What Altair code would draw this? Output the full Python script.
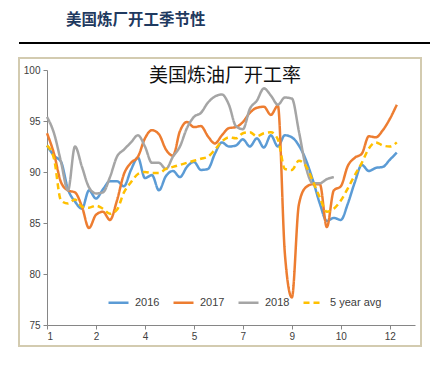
import altair as alt
import pandas as pd

# week index 0..N
s2016 = [92.6, 91.6, 91.0, 88.3, 87.1, 86.4, 88.2, 87.4, 88.3, 89.1,
         89.1, 88.6, 90.2, 91.4, 89.4, 89.7, 88.2, 89.6, 90.1, 89.5,
         90.5, 91.0, 90.2, 90.3, 91.8, 92.9, 92.5, 92.6, 93.2, 92.5,
         93.3, 92.4, 93.6, 92.5, 93.6, 93.4, 92.6, 91.2, 89.2, 86.9,
         85.2, 85.5, 85.3, 86.9, 89.0, 90.7, 90.1, 90.4, 90.5, 91.2, 91.9]
s2017 = [93.8, 91.8, 89.0, 88.2, 88.0, 86.6, 84.5, 85.8, 86.1, 85.3,
         87.2, 89.8, 90.9, 91.5, 93.3, 94.1, 93.7, 92.2, 91.6, 94.0,
         94.9, 94.4, 94.5, 93.5, 92.8, 93.6, 94.3, 94.4, 94.9, 95.8,
         96.3, 96.4, 95.6, 96.5, 82.0, 77.7, 86.8, 88.5, 88.8, 88.8,
         84.6, 88.2, 88.6, 90.6, 91.4, 91.8, 93.5, 93.4, 94.1, 95.2, 96.6]
s2018 = [95.4, 93.8, 91.0, 88.2, 92.5, 90.5, 88.5, 87.9, 88.0, 89.5,
         91.5, 92.2, 92.9, 93.6, 92.5, 90.9, 90.9, 90.3, 91.5, 92.5,
         94.3, 95.4, 95.8, 96.8, 97.4, 97.6, 96.6, 94.5, 94.2, 96.2,
         97.0, 98.2, 97.5, 96.6, 97.3, 97.2, 94.0, 90.5, 88.9, 88.9,
         89.3, 89.5]
s5yr = [92.6, 91.3, 87.2, 86.9, 87.3, 86.6, 86.5, 86.7, 86.4, 85.9,
        86.3, 88.0, 89.0, 89.8, 90.0, 89.9, 89.9, 90.3, 90.5, 90.7,
        90.9, 91.1, 91.3, 91.5, 92.2, 93.0, 93.4, 93.3, 93.8, 93.9,
        93.5, 93.8, 93.9, 93.2, 90.3, 90.2, 91.1, 90.6, 89.1, 87.5,
        86.1, 86.4, 87.2, 88.4, 89.7, 90.9, 92.3, 92.9, 92.6, 92.5, 92.9]

series_names = ["2016", "2017", "2018", "5 year avg"]
series_vals = [s2016, s2017, s2018, s5yr]
series_colors = ["#5B9BD5", "#ED7D31", "#A5A5A5", "#FFC000"]
series_dash = [[1, 0], [1, 0], [1, 0], [6, 4]]

tick_weeks = [0, 7, 14, 21, 28, 35, 42, 49]
tick_labels = ["1", "2", "4", "5", "7", "9", "10", "12"]

header = "美国炼厂开工季节性"
inner_title = "美国炼油厂开工率"

rows = []
for name, vals in zip(series_names, series_vals):
    for w, v in enumerate(vals):
        rows.append({"week": w, "value": v, "series": name})
df = pd.DataFrame(rows)

label_expr = "[" + ",".join("'%s'" % t for t in tick_labels) + "][round(datum.value/7)]"

W, H = 368, 255
one = pd.DataFrame({"a": [0]})

frame = alt.Chart(one).mark_rect(fill=None, stroke="#d3cbb0", strokeWidth=2).encode(
    x=alt.value(-28), x2=alt.value(374), y=alt.value(-12), y2=alt.value(276))

rule = alt.Chart(one).mark_rule(color="black", strokeWidth=2).encode(
    x=alt.value(-28), x2=alt.value(385), y=alt.value(-27))

head = alt.Chart(one).mark_text(
    text=header, font="Noto Sans CJK SC", fontSize=15.5, fontWeight="bold",
    color="#1f3a60", align="left", baseline="middle").encode(
    x=alt.value(19), y=alt.value(-50))

ttl = alt.Chart(one).mark_text(
    text=inner_title, font="Noto Sans CJK SC", fontSize=19,
    color="#111111", align="center", baseline="middle").encode(
    x=alt.value(178), y=alt.value(6))

lines = alt.Chart(df).mark_line(strokeWidth=2.5, interpolate="monotone").encode(
    x=alt.X("week:Q", scale=alt.Scale(domain=[0, 52.6], nice=False, zero=False),
            axis=alt.Axis(values=tick_weeks, labelExpr=label_expr, title=None,
                          grid=False, domainColor="#868686", tickColor="#868686",
                          tickSize=4, labelPadding=2, labelFont="Liberation Sans",
                          labelFontSize=10, labelColor="#404040")),
    y=alt.Y("value:Q", scale=alt.Scale(domain=[75, 100], nice=False, zero=False),
            axis=alt.Axis(values=[75, 80, 85, 90, 95, 100], title=None, grid=False,
                          domainColor="#868686", tickColor="#868686", tickSize=4,
                          labelPadding=3, labelFont="Liberation Sans",
                          labelFontSize=10, labelColor="#404040")),
    color=alt.Color("series:N", sort=series_names,
                    scale=alt.Scale(domain=series_names, range=series_colors),
                    legend=alt.Legend(title=None, orient="none", legendX=60, legendY=221,
                                      direction="horizontal", symbolType="stroke",
                                      symbolSize=400, symbolStrokeWidth=2.5,
                                      labelFont="Liberation Sans", labelFontSize=11,
                                      labelColor="#404040", labelOffset=5,
                                      columnPadding=8)),
    strokeDash=alt.StrokeDash("series:N", sort=series_names,
                              scale=alt.Scale(domain=series_names, range=series_dash),
                              legend=None),
    order=alt.Order("week:Q"),
)

chart = alt.layer(frame, rule, head, ttl, lines).properties(
    width=W, height=H,
    autosize=alt.AutoSizeParams(type="none"),
    padding={"left": 39, "top": 62, "right": 15, "bottom": 30},
    background="white",
).configure_view(stroke=None)

chart.save("out.html", embed_options={"renderer": "svg", "actions": False})
